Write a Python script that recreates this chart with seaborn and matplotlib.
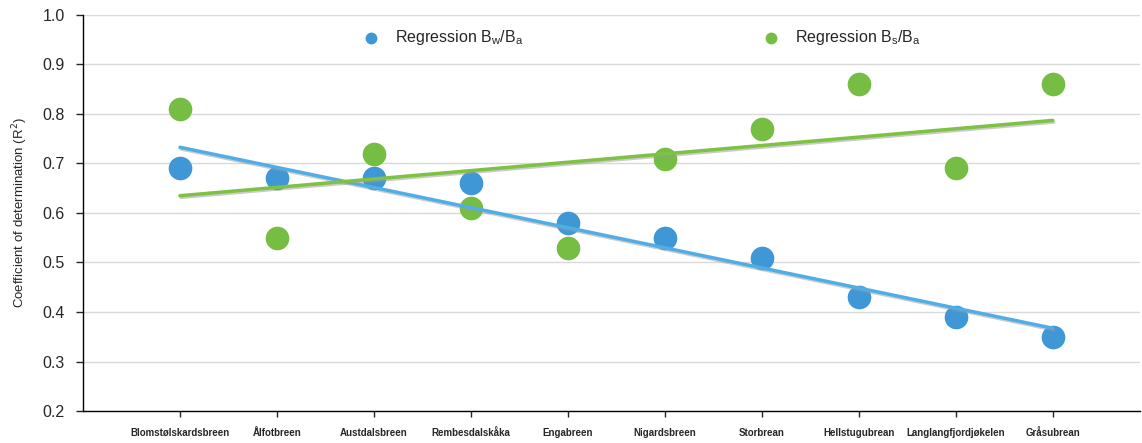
import numpy as np
import pandas as pd
import seaborn as sns
import matplotlib.pyplot as plt
import matplotlib.patheffects as pe

# glaciers and R2 values
glaciers = ["Blomstølskardsbreen", "Ålfotbreen", "Austdalsbreen", "Rembesdalskåka",
            "Engabreen", "Nigardsbreen", "Storbrean", "Hellstugubrean",
            "Langlangfjordjøkelen", "Gråsubrean"]
r2_winter = [0.69, 0.67, 0.67, 0.66, 0.58, 0.55, 0.51, 0.43, 0.39, 0.35]
r2_summer = [0.81, 0.55, 0.72, 0.61, 0.53, 0.71, 0.77, 0.86, 0.69, 0.86]
y_ticks = [0.2, 0.3, 0.4, 0.5, 0.6, 0.7, 0.8, 0.9, 1.0]

df = pd.DataFrame({
    "pos": np.arange(1, len(glaciers) + 1),
    "winter": r2_winter,
    "summer": r2_summer,
})

sns.set_style("white")
plt.rcParams["font.family"] = ["Liberation Sans", "DejaVu Sans"]

fig = plt.figure(figsize=(11.42, 4.43), dpi=100)
ax = fig.add_axes([0.0727, 0.0722, 0.9255, 0.894])

blue_dot, blue_line = "#3F97D6", "#4FAEE6"
green_dot, green_line = "#76BE43", "#7DC242"
shadow = [pe.SimpleLineShadow(offset=(0.8, -1.2), shadow_color="#999999", alpha=0.5), pe.Normal()]

sns.regplot(data=df, x="pos", y="winter", ax=ax, ci=None, truncate=True,
            label=r"Regression $\mathregular{B_w/B_a}$",
            scatter_kws={"s": 290, "color": blue_dot, "alpha": 1, "linewidths": 0, "zorder": 3},
            line_kws={"color": blue_line, "lw": 2.5, "zorder": 4, "path_effects": shadow})
sns.regplot(data=df, x="pos", y="summer", ax=ax, ci=None, truncate=True,
            label=r"Regression $\mathregular{B_s/B_a}$",
            scatter_kws={"s": 290, "color": green_dot, "alpha": 1, "linewidths": 0, "zorder": 3},
            line_kws={"color": green_line, "lw": 2.5, "zorder": 4, "path_effects": shadow})

ax.set_xlim(0, 10.9)
ax.set_ylim(0.2, 1.0)
ax.set_yticks(y_ticks)
ax.set_yticklabels([f"{t:.1f}" for t in y_ticks], fontsize=11.5)
ax.set_xticks(df["pos"])
ax.set_xticklabels(glaciers, fontsize=7, fontweight="bold")
ax.set_xlabel("")
ax.set_ylabel("Coefficient of determination (R$^2$)", fontsize=9.5, labelpad=9)

ax.grid(axis="y", color="#D9D9D9", lw=1.0)
ax.set_axisbelow(True)
for side in ["top", "right"]:
    ax.spines[side].set_visible(False)
for side in ["left", "bottom"]:
    ax.spines[side].set_color("black")
    ax.spines[side].set_linewidth(1.0)
ax.tick_params(axis="y", direction="out", length=5, width=1, left=True, pad=8)
ax.tick_params(axis="x", direction="out", length=4, width=1, bottom=True, pad=8)

handles, labels = ax.get_legend_handles_labels()
handles = [h for h, l in zip(handles, labels) if l.startswith("Regression")]
labels = [l for l in labels if l.startswith("Regression")]
ax.legend(handles, labels, ncol=2, frameon=False, fontsize=11.5, loc="center",
          bbox_to_anchor=(0.525, 0.942), columnspacing=14.5, handletextpad=0.5,
          markerscale=0.5)

fig.savefig("out.png", dpi=100)
